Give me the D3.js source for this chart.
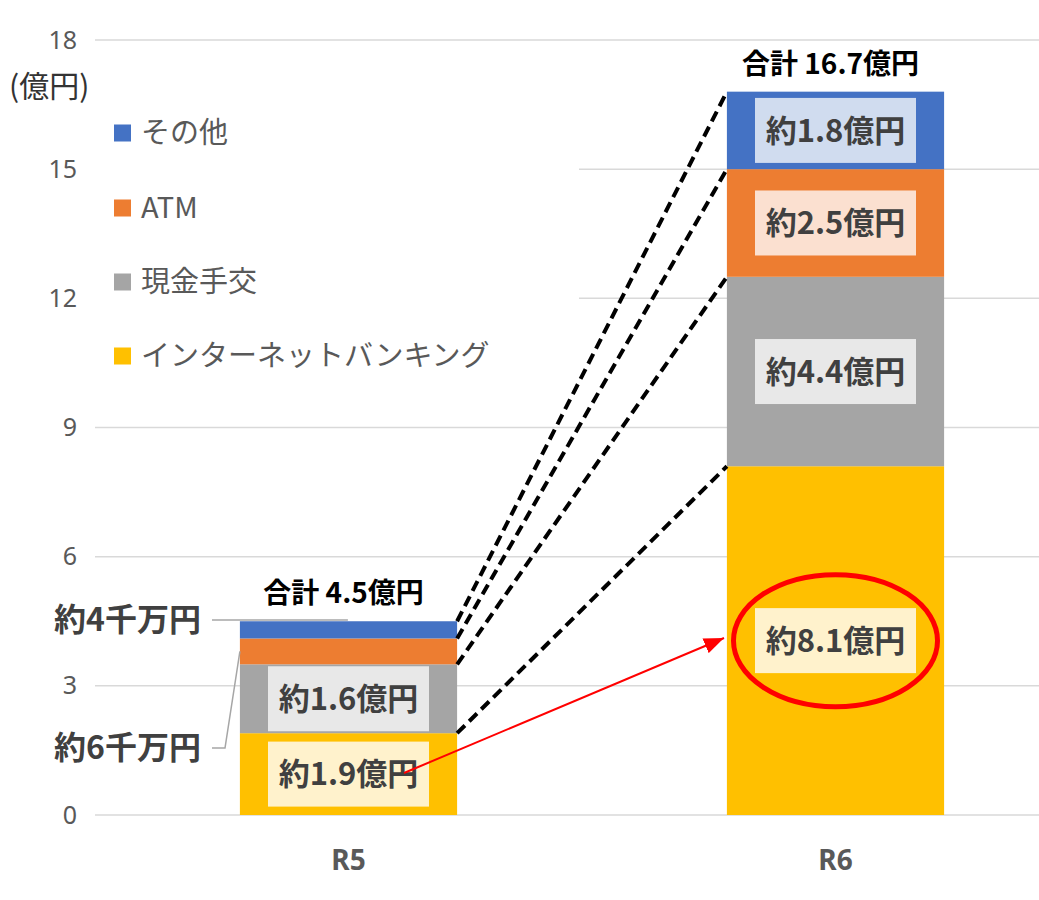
<!DOCTYPE html>
<html>
<head>
<meta charset="utf-8">
<script src="https://cdn.jsdelivr.net/npm/d3@7"></script>
<style>
  body { margin: 0; background: #fff; }
  svg { display: block; font-family: "Noto Sans CJK JP", "Noto Sans", sans-serif; }
</style>
</head>
<body>
<svg width="1039" height="900"></svg>
<script>
// data (億円)
const years = ["R5", "R6"];
const seriesKeys = ["net", "cash", "atm", "other"];
const seriesNames = ["インターネットバンキング", "現金手交", "ATM", "その他"];
const seriesColors = ["#FFC000", "#A5A5A5", "#ED7D31", "#4472C4"];
const labelColors = ["#FFF2CC", "#E8E8E8", "#FBE0D0", "#D0DCEF"];
const net = [1.9, 8.1];
const cash = [1.6, 4.4];
const atm = [0.6, 2.5];
const other = [0.4, 1.8];
const yTicks = [0, 3, 6, 9, 12, 15, 18];
const totals = ["合計 4.5億円", "合計 16.7億円"];
// inner labels: [year index, series index, text]
const innerLabels = [
  [0, 0, "約1.9億円"], [0, 1, "約1.6億円"],
  [1, 0, "約8.1億円"], [1, 1, "約4.4億円"], [1, 2, "約2.5億円"], [1, 3, "約1.8億円"]
];
const calloutLabels = ["約4千万円", "約6千万円"];

const table = years.map((yr, i) => ({year: yr, net: net[i], cash: cash[i], atm: atm[i], other: other[i]}));
const stacked = d3.stack().keys(seriesKeys)(table);

const svg = d3.select("svg");
const W = 1039;

const y = d3.scaleLinear().domain([0, 18]).range([815, 40]);
const x = d3.scaleBand().domain(years).range([105, 1079])
  .paddingInner(0.554).paddingOuter(0.277);

// gridlines
svg.append("g").selectAll("line").data(yTicks).join("line")
  .attr("x1", 95).attr("x2", W)
  .attr("y1", d => y(d)).attr("y2", d => y(d))
  .attr("stroke", "#D9D9D9").attr("stroke-width", 1.5);

// y axis labels
const yAxis = svg.append("g").attr("transform", "translate(80,0)")
  .call(d3.axisLeft(y).tickValues(yTicks).tickSize(0).tickPadding(3));
yAxis.select(".domain").remove();
yAxis.selectAll("text").attr("font-size", 25).attr("fill", "#595959")
  .attr("font-family", "'Noto Sans', sans-serif");

svg.append("text").attr("x", 9).attr("y", 97)
  .attr("font-size", 30).attr("fill", "#333").text("(億円)");

// x axis labels
const xAxis = svg.append("g").attr("transform", "translate(0,850)")
  .call(d3.axisBottom(x).tickSize(0).tickPadding(0));
xAxis.select(".domain").remove();
xAxis.selectAll("text").attr("font-size", 28).attr("font-weight", 700)
  .attr("fill", "#595959").attr("font-family", "'Noto Sans', sans-serif");

// legend (white box hides grid behind it)
svg.append("rect").attr("x", 95).attr("y", 100).attr("width", 484).attr("height", 280).attr("fill", "#fff");
const legendY = [356, 282, 208, 133];
const legend = svg.append("g").selectAll("g").data(seriesNames).join("g")
  .attr("transform", (d, i) => `translate(114,${legendY[i]})`);
legend.append("rect").attr("x", 0).attr("y", -8.5).attr("width", 17).attr("height", 17)
  .attr("fill", (d, i) => seriesColors[i]);
legend.append("text").attr("x", 27).attr("dy", "0.36em")
  .attr("font-size", 29).attr("fill", "#595959").text(d => d);

// bars
svg.append("g").selectAll("g").data(stacked).join("g")
  .attr("fill", (d, i) => seriesColors[i])
  .selectAll("rect").data(d => d).join("rect")
  .attr("x", d => x(d.data.year))
  .attr("y", d => y(d[1]))
  .attr("width", x.bandwidth())
  .attr("height", d => y(d[0]) - y(d[1]));

// dashed connectors between segment tops
svg.append("g").selectAll("line").data(stacked).join("line")
  .attr("x1", x("R5") + x.bandwidth()).attr("y1", d => y(d[0][1]))
  .attr("x2", x("R6")).attr("y2", d => y(d[1][1]))
  .attr("stroke", "#000").attr("stroke-width", 4).attr("stroke-dasharray", "11,6");

// inner labels
const lab = svg.append("g").selectAll("g").data(innerLabels).join("g")
  .attr("transform", d => {
    const seg = stacked[d[1]][d[0]];
    return `translate(${x(years[d[0]]) + x.bandwidth() / 2},${y((seg[0] + seg[1]) / 2)})`;
  });
lab.append("rect").attr("x", -80.5).attr("y", -32.5).attr("width", 161).attr("height", 65)
  .attr("fill", d => labelColors[d[1]]);
lab.append("text").attr("text-anchor", "middle").attr("dy", "0.36em")
  .attr("font-size", 31).attr("font-weight", 700).attr("fill", "#404040").text(d => d[2]);

// totals
svg.append("g").selectAll("text").data(totals).join("text")
  .attr("x", (d, i) => x(years[i]) + x.bandwidth() / 2 - 5)
  .attr("y", (d, i) => y(d3.sum(stacked, s => s[i][1] - s[i][0])) - 18)
  .attr("text-anchor", "middle").attr("font-size", 28).attr("font-weight", 700)
  .attr("fill", "#000").text(d => d);

// callouts for small R5 segments
const r5Left = x("R5");
const atmSeg = stacked[2][0];
svg.append("path")
  .attr("d", `M212,620 L${r5Left + 108},620`)
  .attr("fill", "none").attr("stroke", "#A6A6A6").attr("stroke-width", 1.5);
svg.append("path")
  .attr("d", `M212,748 L225,748 L${r5Left},${y((atmSeg[0] + atmSeg[1]) / 2)}`)
  .attr("fill", "none").attr("stroke", "#A6A6A6").attr("stroke-width", 1.5);
svg.append("g").selectAll("text").data(calloutLabels).join("text")
  .attr("x", 201).attr("y", (d, i) => [631, 759][i])
  .attr("text-anchor", "end").attr("font-size", 32).attr("font-weight", 700)
  .attr("fill", "#404040").text(d => d);

// red arrow and ellipse
svg.append("defs").append("marker")
  .attr("id", "arrow").attr("markerUnits", "userSpaceOnUse")
  .attr("viewBox", "0 0 20 16").attr("refX", 20).attr("refY", 8)
  .attr("markerWidth", 20).attr("markerHeight", 16).attr("orient", "auto")
  .append("path").attr("d", "M0,0 L20,8 L0,16 Z").attr("fill", "#FF0000");
svg.append("line")
  .attr("x1", 404).attr("y1", 773).attr("x2", 724).attr("y2", 638)
  .attr("stroke", "#FF0000").attr("stroke-width", 2).attr("marker-end", "url(#arrow)");

const seg81 = stacked[0][1];
svg.append("ellipse")
  .attr("cx", x("R6") + x.bandwidth() / 2).attr("cy", y((seg81[0] + seg81[1]) / 2))
  .attr("rx", 102).attr("ry", 66)
  .attr("fill", "none").attr("stroke", "#FF0000").attr("stroke-width", 5);
</script>
</body>
</html>
